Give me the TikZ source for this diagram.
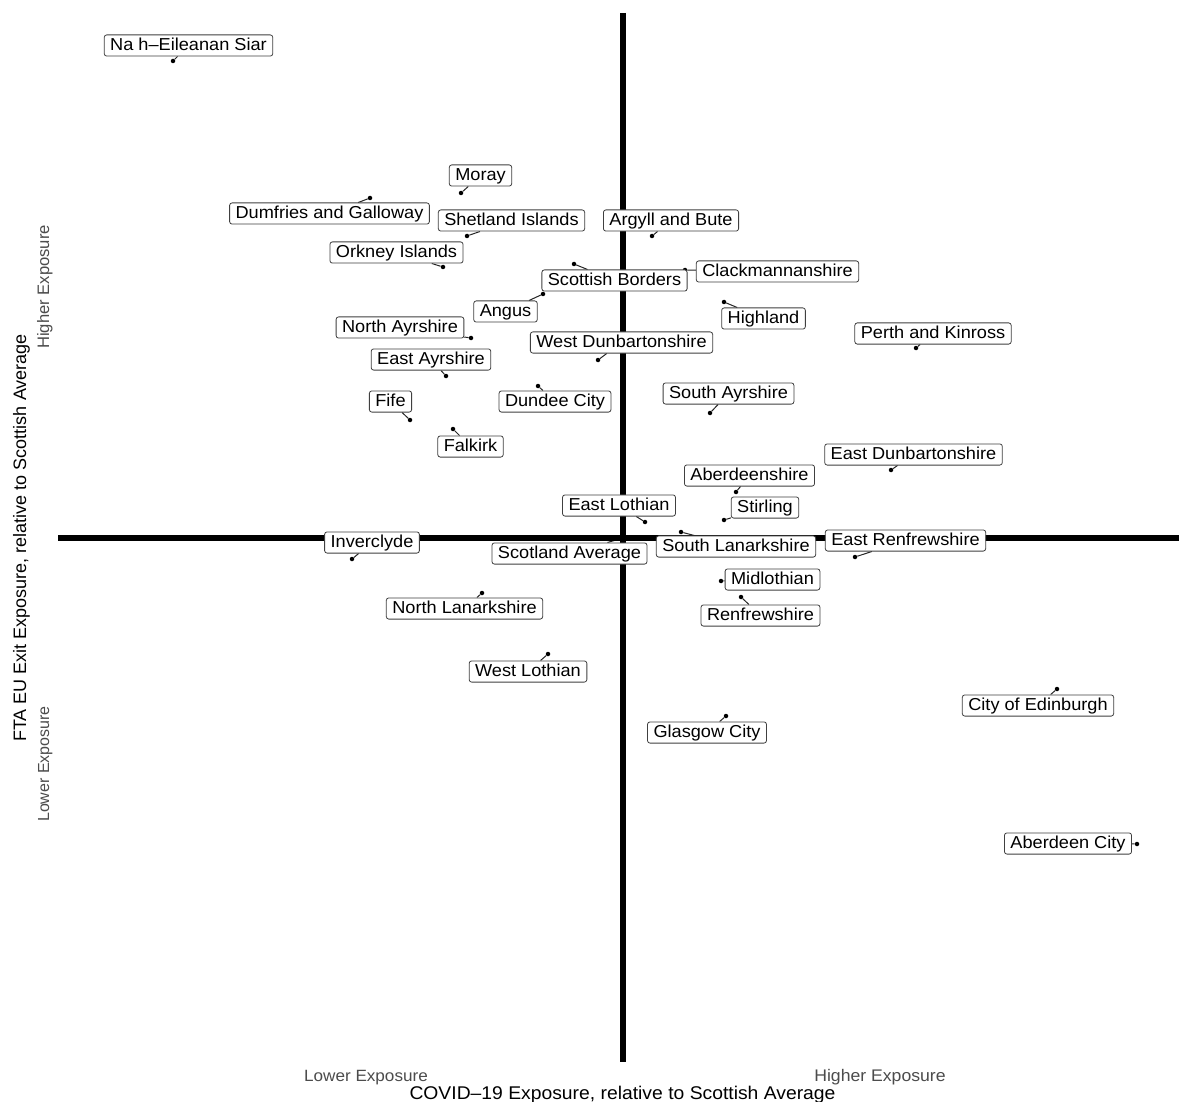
\documentclass[tikz,border=0pt]{standalone}
\usepackage{fontspec}
\setmainfont{Liberation Sans}
\newfontfamily\labfam[FakeStretch=1.05]{Liberation Sans}
\newfontfamily\plainfam{Liberation Sans}
\usetikzlibrary{backgrounds}
\tikzset{
  lab/.style={draw=black!75, fill=white, rounded corners=2.5pt, line width=0.8pt,
    inner xsep=6pt, inner ysep=1.8pt, text height=14pt, text depth=3.6pt,
    font=\labfam\fontsize{17.3}{20}\selectfont, text=black},
  pt/.style={circle, fill=black, inner sep=0pt, minimum size=4.5pt},
  seg/.style={line width=1pt, black!85},
  axisline/.style={line width=5.5pt, black},
  sublab/.style={text=black!70, inner sep=0pt},
}
\begin{document}
\begin{tikzpicture}[x=1pt,y=-1pt]
\useasboundingbox (0,0) rectangle (1179,1102);
\begin{pgfonlayer}{background}
\fill[white] (0,0) rectangle (1179,1102);
\end{pgfonlayer}
% axes
\coordinate (xl) at (58,538);
\coordinate (xr) at (1179,538);
\coordinate (yt) at (623,13);
\coordinate (yb) at (623,1062);
\draw[axisline] (xl) -- (xr);
\draw[axisline] (yt) -- (yb);
% points and labels
\foreach \i/\lx/\ly/\px/\py/\t in {
 1/188.5/45.5/173/61/Na h–Eileanan Siar,
 2/480.5/175.5/461/193/Moray,
 3/329.5/213.5/370/198/Dumfries and Galloway,
 4/511.5/220.5/467/236/Shetland Islands,
 5/671/220.5/652/236/Argyll and Bute,
 6/396.5/252.5/443/267/Orkney Islands,
 7/777.5/271.5/685/270/Clackmannanshire,
 8/614.5/280.5/574/264/Scottish Borders,
 9/505.5/311.5/543/294/Angus,
 10/763.5/318.5/724/302/Highland,
 11/933/333.5/916/348/Perth and Kinross,
 12/400/327.5/471/338/North Ayrshire,
 13/621.5/342.5/598/360/West Dunbartonshire,
 14/431/359.5/446/376/East Ayrshire,
 15/390.5/401.5/410/420/Fife,
 16/555/401.5/538/386/Dundee City,
 17/728.5/393.5/710/413/South Ayrshire,
 18/470.5/446.5/453/429/Falkirk,
 19/913.5/454.5/891/470/East Dunbartonshire,
 20/749.5/475.5/736/492/Aberdeenshire,
 21/619/505.5/645/522/East Lothian,
 22/765/507.5/724/520/Stirling,
 23/372/542.5/352/559/Inverclyde,
 24/569.5/553.5/623/538/Scotland Average,
 25/736/546.5/681/532/South Lanarkshire,
 26/905.5/540.5/855/557/East Renfrewshire,
 27/772.5/579.5/721/581/Midlothian,
 28/760.5/615.5/741/597/Renfrewshire,
 29/464.5/608.5/482/593/North Lanarkshire,
 30/528/671.5/548/654/West Lothian,
 31/707/732.5/726/716/Glasgow City,
 32/1038/705.5/1057/689/City of Edinburgh,
 33/1068/843.5/1137/844/Aberdeen City}{
  \node[pt] (p\i) at (\px,\py) {};
  \node[lab] (l\i) at (\lx,\ly) {\t};
  \begin{pgfonlayer}{background}
    \draw[seg] (p\i) -- (l\i);
  \end{pgfonlayer}
}
% axis texts
\node[sublab, anchor=base, font=\labfam\fontsize{16.3}{18}\selectfont] (xlow) at (366,1081) {Lower Exposure};
\node[sublab, anchor=base, font=\labfam\fontsize{16.8}{18}\selectfont] (xhigh) at (880,1081) {Higher Exposure};
\node[inner sep=0pt, anchor=base, font=\labfam\fontsize{18.4}{20}\selectfont] (xtitle) at (622.5,1099.5) {COVID–19 Exposure, relative to Scottish Average};
\node[inner sep=0pt, anchor=base, rotate=90, font=\plainfam\fontsize{18}{20}\selectfont] (ytitle) at (26,538) {FTA EU Exit Exposure, relative to Scottish Average};
\node[sublab, anchor=base, rotate=90, font=\plainfam\fontsize{16.6}{18}\selectfont] (yhigh) at (49,287) {Higher Exposure};
\node[sublab, anchor=base, rotate=90, font=\plainfam\fontsize{16}{18}\selectfont] (ylow) at (49,764) {Lower Exposure};
\end{tikzpicture}
\end{document}
